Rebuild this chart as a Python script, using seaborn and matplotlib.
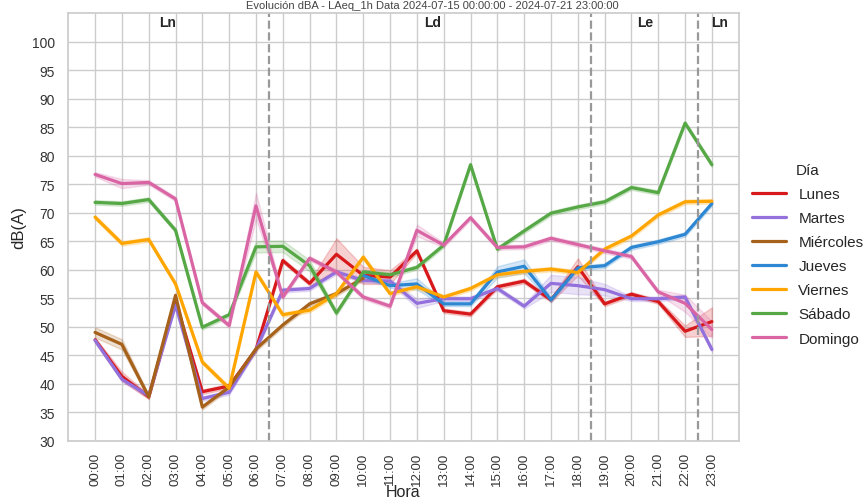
import pandas as pd
import matplotlib
matplotlib.use('Agg')
import matplotlib.pyplot as plt
import seaborn as sns

sns.set_theme(style='whitegrid')
plt.rcParams['font.family'] = ['Liberation Sans', 'DejaVu Sans']

# Datos (dB(A) por hora y día de la semana)
horas = [f'{h:02d}:00' for h in range(24)]
dias = ['Lunes', 'Martes', 'Miércoles', 'Jueves', 'Viernes', 'Sábado', 'Domingo']

lunes = [47.7, 41.3, 37.7, 54.5, 38.6, 39.6, 46.0, 61.6, 57.6, 62.7, 59.0, 58.7,
         63.3, 52.8, 52.2, 57.0, 58.0, 54.7, 60.5, 54.0, 55.7, 54.4, 49.2, 50.9]
martes = [47.6, 40.8, 37.9, 53.8, 37.4, 38.5, 46.0, 56.4, 56.7, 59.6, 58.1, 58.0,
          54.1, 54.9, 54.9, 56.7, 53.6, 57.6, 57.2, 56.5, 54.9, 54.9, 55.2, 46.0]
miercoles = [49.0, 46.9, 37.7, 55.5, 35.9, 39.4, 46.1, 50.3, 54.0, 55.8, 58.5] + [None] * 13
jueves = [None] * 10 + [59.0, 57.2, 57.5, 54.0, 54.0, 59.6, 60.6, 54.7, 60.3, 60.7,
                        63.9, 64.9, 66.2, 71.6]
viernes = [69.2, 64.6, 65.3, 57.5, 43.8, 39.2, 59.6, 52.1, 52.9, 55.8, 62.2, 55.8,
           57.0, 55.2, 56.7, 59.1, 59.7, 60.1, 59.5, 63.6, 65.9, 69.6, 71.9, 72.0]
sabado = [71.8, 71.6, 72.3, 66.9, 49.9, 52.1, 64.0, 64.1, 60.7, 52.4, 59.6, 59.1,
          60.4, 64.3, 78.4, 63.6, 66.8, 69.9, 71.0, 71.9, 74.4, 73.5, 85.7, 78.4]
domingo = [76.7, 75.1, 75.3, 72.4, 54.2, 50.2, 71.2, 55.2, 62.0, 59.6, 55.2, 53.6,
           66.9, 64.3, 69.1, 63.9, 64.0, 65.5, 64.4, 63.3, 62.3, 56.1, 54.1, 49.5]

# Semi-anchura aproximada de las bandas de confianza visibles
banda_defecto = 0.4
bandas = {
    ('Lunes', 9): 2.8, ('Lunes', 10): 1.5, ('Lunes', 11): 1.2, ('Lunes', 18): 1.5,
    ('Lunes', 22): 1.0, ('Lunes', 23): 2.5, ('Lunes', 1): 0.8,
    ('Martes', 17): 1.5, ('Martes', 18): 1.5, ('Martes', 19): 1.0, ('Martes', 12): 0.8,
    ('Miércoles', 0): 0.9, ('Miércoles', 1): 0.9,
    ('Jueves', 15): 1.0, ('Jueves', 16): 1.2, ('Jueves', 12): 1.0,
    ('Sábado', 6): 1.0, ('Sábado', 7): 1.0, ('Sábado', 8): 1.0,
    ('Domingo', 6): 2.3, ('Domingo', 12): 1.0, ('Domingo', 22): 1.5, ('Domingo', 23): 1.5,
    ('Domingo', 1): 0.8,
}

colores = ['#d7191c', '#9370db', '#a6611a', '#2d87d2', '#ffa500', '#55a845', '#d965a5']

periodos = ['Ln', 'Ld', 'Le', 'Ln']
periodos_centro = [2.7, 12.6, 20.5, 23.3]
limites = [6.5, 18.5, 22.5]

series = dict(zip(dias, [lunes, martes, miercoles, jueves, viernes, sabado, domingo]))

filas = []
for dia, valores in series.items():
    for h, v in enumerate(valores):
        if v is None:
            continue
        hw = bandas.get((dia, h), banda_defecto)
        filas.append([dia, h, v - hw])
        filas.append([dia, h, v + hw])
df = pd.DataFrame(filas, columns=['Día', 'hora', 'dBA'])

fig, ax = plt.subplots(figsize=(8.64, 5.02), dpi=100)
fig.subplots_adjust(left=0.079, right=0.855, bottom=0.12, top=0.972)

sns.lineplot(data=df, x='hora', y='dBA', hue='Día', hue_order=dias,
             palette=colores, errorbar=('pi', 100), linewidth=2.3, ax=ax)

for x in limites:
    ax.axvline(x, color='#999999', linestyle='--', linewidth=1.6)
for txt, x in zip(periodos, periodos_centro):
    ax.text(x, 103.4, txt, ha='center', va='center', fontsize=10, fontweight='bold')

ax.set_xlim(-1, 24)
ax.set_ylim(30, 105)
ax.set_yticks(range(30, 101, 5))
ax.set_xticks(range(24))
ax.set_xticklabels(horas, rotation=90)
ax.tick_params(labelsize=10, colors='#333333')
ax.tick_params(axis='x', labelsize=9.5, pad=2)
ax.set_xlabel('Hora', fontsize=11.5, labelpad=-1)
ax.set_ylabel('dB(A)', fontsize=12)

fig.text(0.5, 0.999, 'Evolución dBA - LAeq_1h Data 2024-07-15 00:00:00 - 2024-07-21 23:00:00',
         ha='center', va='top', fontsize=8, color='#444444')

leg = ax.legend(title='Día', loc='center left', bbox_to_anchor=(1.0, 0.436),
                frameon=False, fontsize=11, title_fontsize=11, labelspacing=0.66,
                handlelength=2.2)

fig.savefig('out.png', dpi=100)
